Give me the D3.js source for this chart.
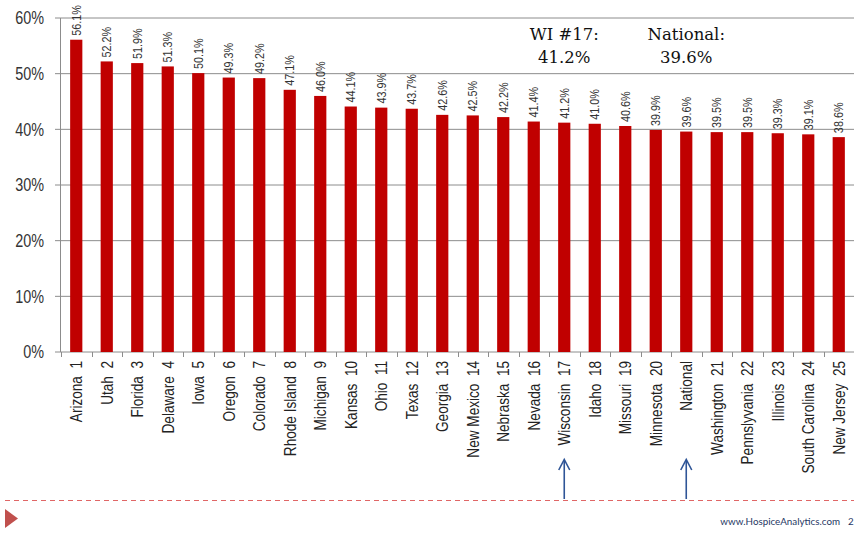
<!DOCTYPE html>
<html>
<head>
<meta charset="utf-8">
<script src="https://cdn.jsdelivr.net/npm/d3@7"></script>
<style>
    body { margin: 0; background: #fff; }
    svg { display: block; }
</style>
</head>
<body>
<script>
// chart data
var states = ["Arizona", "Utah", "Florida", "Delaware", "Iowa", "Oregon",
    "Colorado", "Rhode Island", "Michigan", "Kansas", "Ohio", "Texas",
    "Georgia", "New Mexico", "Nebraska", "Nevada", "Wisconsin", "Idaho",
    "Missouri", "Minnesota", "National", "Washington", "Pennslyvania",
    "Illinois", "South Carolina", "New Jersey"];
var ranks = ["1", "2", "3", "4", "5", "6", "7", "8", "9", "10", "11", "12",
    "13", "14", "15", "16", "17", "18", "19", "20", "", "21", "22", "23",
    "24", "25"];
var values = [56.1, 52.2, 51.9, 51.3, 50.1, 49.3, 49.2, 47.1, 46.0, 44.1,
    43.9, 43.7, 42.6, 42.5, 42.2, 41.4, 41.2, 41.0, 40.6, 39.9, 39.6, 39.5,
    39.5, 39.3, 39.1, 38.6];
var yTicks = [0, 10, 20, 30, 40, 50, 60];
var callouts = [
    {target: "Wisconsin", title: "WI #17:", value: "41.2%"},
    {target: "National", title: "National:", value: "39.6%"}
];

var width = 854, height = 533;
// no narrow font installed, so squeeze Liberation Sans along the text
var narrow = "'Liberation Sans', Arial, sans-serif";
var squeeze = 0.8;

var svg = d3.select("body").append("svg")
    .attr("width", width)
    .attr("height", height);

var x = d3.scaleBand()
    .domain(states)
    .range([61, 854])
    .paddingInner(0.6)
    .paddingOuter(0.3);

var y = d3.scaleLinear()
    .domain([0, 60])
    .range([352, 18]);

// gridlines + y labels
svg.selectAll("line.grid")
    .data(yTicks)
    .enter().append("line")
    .attr("class", "grid")
    .attr("x1", 55)
    .attr("x2", width)
    .attr("y1", function(d){ return y(d); })
    .attr("y2", function(d){ return y(d); })
    .style("stroke", "#8c8c8c")
    .style("stroke-width", 1);

svg.selectAll("text.ylab")
    .data(yTicks)
    .enter().append("text")
    .attr("class", "ylab")
    .attr("transform", function(d){
        return "translate(44," + y(d) + ") scale(" + squeeze + ",1)";
    })
    .attr("dy", "0.35em")
    .attr("text-anchor", "end")
    .style("font-family", narrow)
    .style("font-size", "18px")
    .style("fill", "#333")
    .text(function(d){ return d + "%"; });

svg.append("line")
    .attr("x1", 60.5).attr("x2", 60.5)
    .attr("y1", y(60)).attr("y2", y(0))
    .style("stroke", "#8c8c8c");

// category boundary ticks under the axis
var step = x.step();
svg.selectAll("line.xtick")
    .data(d3.range(states.length + 1))
    .enter().append("line")
    .attr("class", "xtick")
    .attr("x1", function(i){ return Math.round(61 + i * step) + 0.5; })
    .attr("x2", function(i){ return Math.round(61 + i * step) + 0.5; })
    .attr("y1", y(0))
    .attr("y2", y(0) + 5)
    .style("stroke", "#8c8c8c");

// bars
svg.selectAll("rect.bar")
    .data(values)
    .enter().append("rect")
    .attr("class", "bar")
    .attr("x", function(d, i){ return x(states[i]); })
    .attr("width", x.bandwidth())
    .attr("y", function(d){ return y(d); })
    .attr("height", function(d){ return y(0) - y(d); })
    .style("fill", "#c00000");

// value labels, rotated
svg.selectAll("text.val")
    .data(values)
    .enter().append("text")
    .attr("class", "val")
    .attr("transform", function(d, i){
        var cx = x(states[i]) + x.bandwidth() / 2;
        return "translate(" + cx + "," + (y(d) - 4) + ") rotate(-90) scale("
            + squeeze + ",1)";
    })
    .attr("dy", "0.35em")
    .style("font-family", narrow)
    .style("font-size", "13.5px")
    .style("fill", "#333")
    .text(function(d){ return d.toFixed(1) + "%"; });

// category labels, rotated
svg.selectAll("text.cat")
    .data(states)
    .enter().append("text")
    .attr("class", "cat")
    .attr("transform", function(d){
        var cx = x(d) + x.bandwidth() / 2;
        return "translate(" + cx + ",361) rotate(-90) scale(" + squeeze + ",1)";
    })
    .attr("dy", "0.35em")
    .attr("text-anchor", "end")
    .style("font-family", narrow)
    .style("font-size", "17px")
    .style("fill", "#222")
    .style("white-space", "pre")
    .text(function(d, i){ return ranks[i] ? d + "  " + ranks[i] : d; });

// callout text + arrows
callouts.forEach(function(c){
    var cx = x(c.target) + x.bandwidth() / 2;
    var t = svg.append("text")
        .attr("text-anchor", "middle")
        .style("font-family", "'DejaVu Serif', serif")
        .style("font-size", "16.5px")
        .style("fill", "#111");
    t.append("tspan").attr("x", cx).attr("y", 40).text(c.title);
    t.append("tspan").attr("x", cx).attr("y", 63).text(c.value);

    svg.append("line")
        .attr("x1", cx).attr("x2", cx)
        .attr("y1", 499).attr("y2", 460)
        .style("stroke", "#2f5597")
        .style("stroke-width", 1.6);
    svg.append("path")
        .attr("d", "M" + (cx - 5.5) + ",470 L" + cx + ",459.5 L"
            + (cx + 5.5) + ",470")
        .style("fill", "none")
        .style("stroke", "#2f5597")
        .style("stroke-width", 1.6);
});

// slide footer
svg.append("line")
    .attr("x1", 5).attr("x2", width)
    .attr("y1", 500.5).attr("y2", 500.5)
    .style("stroke", "#e06666")
    .style("stroke-width", 1)
    .style("stroke-dasharray", "5,4");

svg.append("path")
    .attr("d", "M5,509 L18,518.5 L5,528 Z")
    .style("fill", "#c0504d");

svg.append("text")
    .attr("x", 840)
    .attr("y", 525)
    .attr("text-anchor", "end")
    .style("font-family", "Lato, 'Open Sans', sans-serif")
    .style("font-size", "9.8px")
    .style("fill", "#1f3864")
    .text("www.HospiceAnalytics.com");

svg.append("text")
    .attr("x", 848)
    .attr("y", 525)
    .style("font-family", "Lato, 'Open Sans', sans-serif")
    .style("font-size", "9.8px")
    .style("fill", "#1f3864")
    .text("2");
</script>
</body>
</html>
